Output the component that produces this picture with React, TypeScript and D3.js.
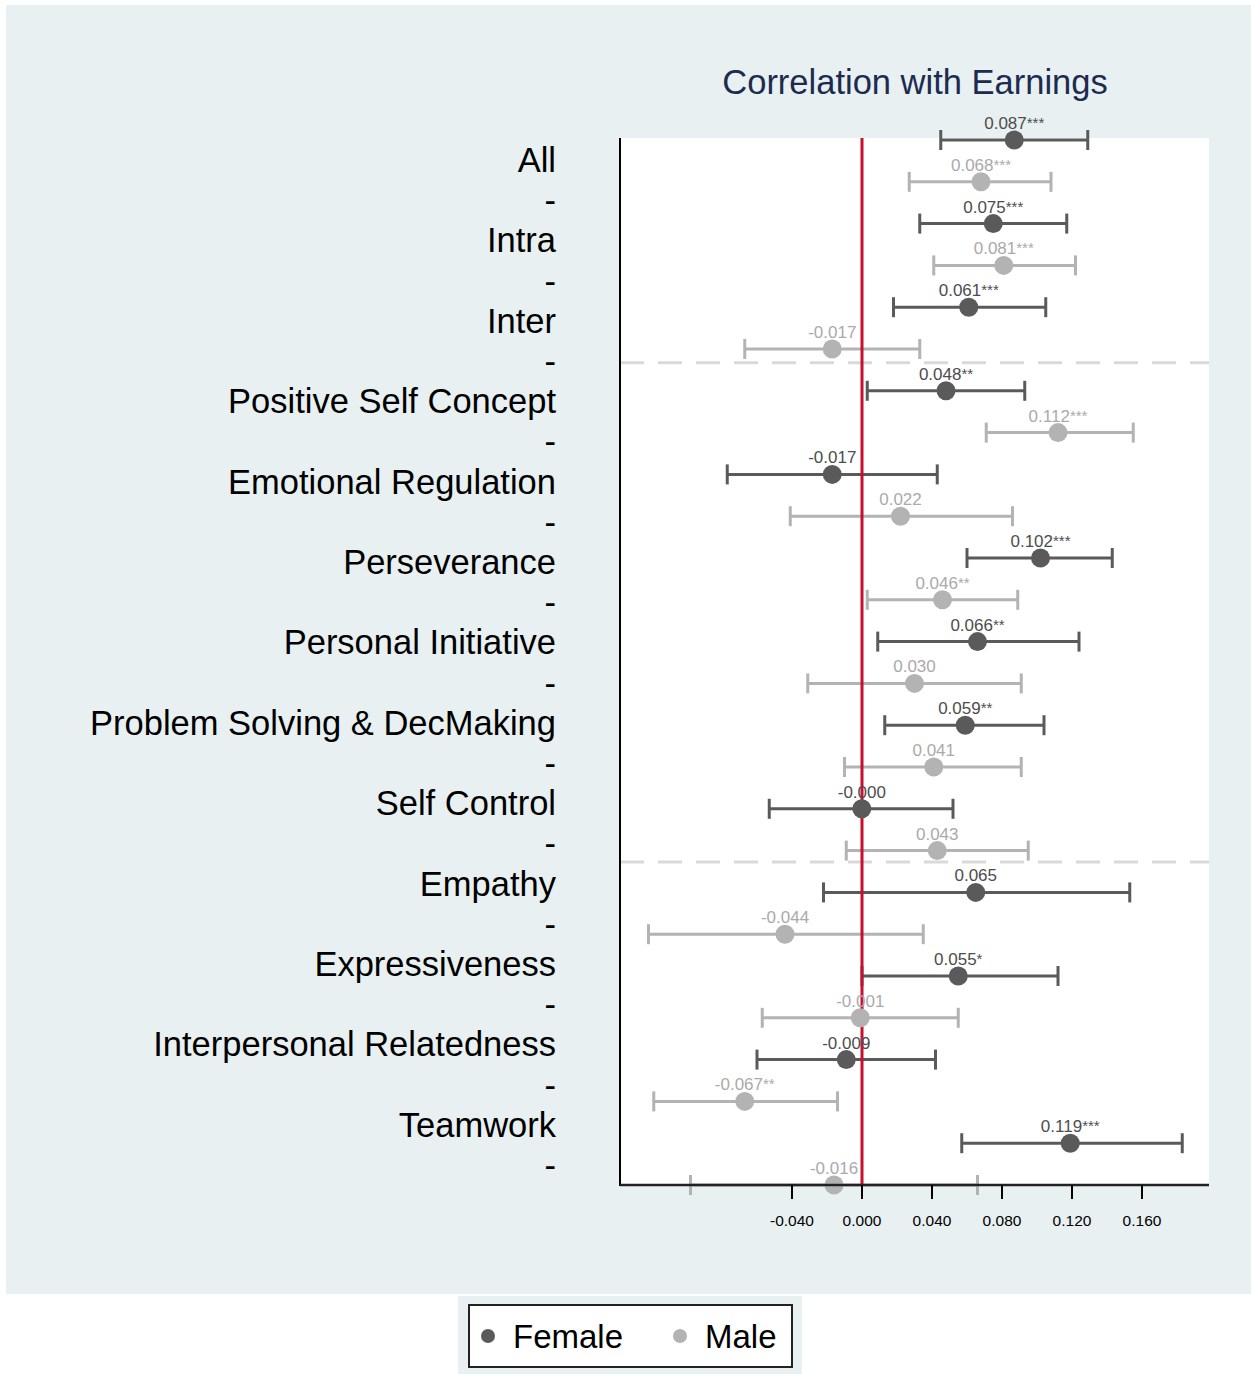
import React from "react";
import * as d3 from "d3";

const rowLabels = [
  "All", "-", "Intra", "-", "Inter", "-", "Positive Self Concept", "-",
  "Emotional Regulation", "-", "Perseverance", "-", "Personal Initiative", "-",
  "Problem Solving & DecMaking", "-", "Self Control", "-", "Empathy", "-",
  "Expressiveness", "-", "Interpersonal Relatedness", "-", "Teamwork", "-",
];

// one entry per row: alternating Female / Male
const groups = ["Female", "Male"];
const estimates = [
  0.087, 0.068, 0.075, 0.081, 0.061, -0.017, 0.048, 0.112, -0.017, 0.022,
  0.102, 0.046, 0.066, 0.030, 0.059, 0.041, -0.0001, 0.043, 0.065, -0.044,
  0.055, -0.001, -0.009, -0.067, 0.119, -0.016,
];
const lower = [
  0.045, 0.027, 0.033, 0.041, 0.018, -0.067, 0.003, 0.071, -0.077, -0.041,
  0.060, 0.003, 0.009, -0.031, 0.013, -0.010, -0.053, -0.009, -0.022, -0.122,
  0.000, -0.057, -0.060, -0.119, 0.057, -0.098,
];
const upper = [
  0.129, 0.108, 0.117, 0.122, 0.105, 0.033, 0.093, 0.155, 0.043, 0.086,
  0.143, 0.089, 0.124, 0.091, 0.104, 0.091, 0.052, 0.095, 0.153, 0.035,
  0.112, 0.055, 0.042, -0.014, 0.183, 0.066,
];
const stars = [
  "***", "***", "***", "***", "***", "", "**", "***", "", "",
  "***", "**", "**", "", "**", "", "", "", "", "",
  "*", "", "", "**", "***", "",
];
const valueText = [
  "0.087", "0.068", "0.075", "0.081", "0.061", "-0.017", "0.048", "0.112", "-0.017", "0.022",
  "0.102", "0.046", "0.066", "0.030", "0.059", "0.041", "-0.000", "0.043", "0.065", "-0.044",
  "0.055", "-0.001", "-0.009", "-0.067", "0.119", "-0.016",
];
const xTicks = [-0.04, 0, 0.04, 0.08, 0.12, 0.16];
const dividerRows = [5.33, 17.27];

const colors: Record<string, string> = { Female: "#5a5a5a", Male: "#b3b3b3" };
const labelColors: Record<string, string> = { Female: "#4d4d4d", Male: "#aaaaaa" };

export default function App() {
  const W = 1251;
  const H = 1374;
  const plotL = 620, plotR = 1209, plotT = 138, plotB = 1185;
  const x = d3.scaleLinear().domain([-0.04, 0.16]).range([792, 1142]);
  const y = d3.scaleLinear().domain([0, 25]).range([140, 1185]);
  const yLab = d3.scaleLinear().domain([0, 25]).range([160, 1165]);
  const font = "Arial, 'Liberation Sans', sans-serif";
  const idx = d3.range(estimates.length);

  return (
    <svg width={W} height={H} style={{ position: "absolute", left: 0, top: 0 }} fontFamily={font}>
      <rect x={0} y={0} width={W} height={H} fill="#ffffff" />
      <rect x={6} y={5} width={W - 6} height={1289} fill="#e8f0f2" />
      <rect x={plotL} y={plotT} width={plotR - plotL} height={plotB - plotT} fill="#ffffff" />
      <text x={915} y={82} dy="0.35em" textAnchor="middle" fontSize={34.5} fill="#1c2b4f">Correlation with Earnings</text>

      {dividerRows.map((r) => (
        <line key={r} x1={plotL} x2={plotR} y1={y(r)} y2={y(r)} stroke="#d9d9d9" strokeWidth={3} strokeDasharray="24,14" />
      ))}

      {rowLabels.map((l, i) => (
        <text key={i} x={556} y={yLab(i)} dy="0.35em" textAnchor="end" fontSize={34.5} fill="#000">{l}</text>
      ))}

      {idx.map((i) => {
        const g = groups[i % 2];
        const c = colors[g];
        const cy = y(i);
        return (
          <g key={i}>
            <line x1={x(lower[i])} x2={x(upper[i])} y1={cy} y2={cy} stroke={c} strokeWidth={3} />
            <line x1={x(lower[i])} x2={x(lower[i])} y1={cy - 10} y2={cy + 10} stroke={c} strokeWidth={3} />
            <line x1={x(upper[i])} x2={x(upper[i])} y1={cy - 10} y2={cy + 10} stroke={c} strokeWidth={3} />
          </g>
        );
      })}

      <line x1={x(0)} x2={x(0)} y1={plotT} y2={plotB} stroke="#c8102e" strokeWidth={3} />

      {idx.map((i) => {
        const g = groups[i % 2];
        const cy = y(i);
        return (
          <g key={i}>
            <circle cx={x(estimates[i])} cy={cy} r={9.5} fill={colors[g]} />
            <text x={x(estimates[i])} y={cy - 11} textAnchor="middle" fontSize={17} fill={labelColors[g]}>
              {valueText[i]}
              {stars[i] ? <tspan fontSize={15} dy={-1}>{stars[i]}</tspan> : null}
            </text>
          </g>
        );
      })}

      <line x1={plotL} x2={plotL} y1={plotT} y2={plotB + 1} stroke="#000" strokeWidth={2} />
      <line x1={plotL} x2={plotR} y1={plotB} y2={plotB} stroke="#222" strokeWidth={2.5} />
      {xTicks.map((t) => (
        <g key={t}>
          <line x1={x(t)} x2={x(t)} y1={plotB} y2={plotB + 14} stroke="#000" strokeWidth={2} />
          <text x={x(t)} y={1226} textAnchor="middle" fontSize={15.5} fill="#000">{d3.format(".3f")(t).replace("−", "-")}</text>
        </g>
      ))}

      <rect x={458} y={1296} width={344} height={78} fill="#e8f0f2" />
      <rect x={469} y={1305} width={323} height={62} fill="#fff" stroke="#222" strokeWidth={2} />
      {groups.map((g, k) => {
        const lx = k === 0 ? 488 : 680;
        return (
          <g key={g}>
            <circle cx={lx} cy={1336} r={7} fill={colors[g]} />
            <text x={lx + 25} y={1336} dy="0.35em" fontSize={33} fill="#000">{g}</text>
          </g>
        );
      })}
    </svg>
  );
}
